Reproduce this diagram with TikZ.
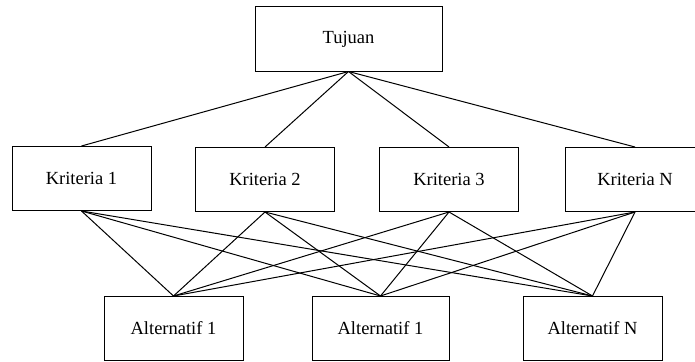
\documentclass[tikz,border=0pt]{standalone}
\usepackage{fontspec}
\setmainfont{Liberation Serif}
\begin{document}
\begin{tikzpicture}[x=1pt,y=-1pt,
  box/.style={draw, line width=1pt, minimum width=139pt, minimum height=64pt, inner sep=0pt,
    font=\fontsize{18.5}{22}\selectfont},
  link/.style={line width=1pt}]
\useasboundingbox (0,0) rectangle (695,361);
\node[box, minimum width=187pt] (goal) at (348.5,39) {Tujuan};
\node[box] (k1) at (81.5,178.5) {Kriteria 1};
\node[box] (k2) at (265,179.5) {Kriteria 2};
\node[box] (k3) at (449,179.5) {Kriteria 3};
\node[box, minimum width=140pt] (kn) at (635,179.5) {Kriteria N};
\node[box] (a1) at (173.5,328.5) {Alternatif 1};
\node[box, minimum width=137pt] (a2) at (380.5,328.5) {Alternatif 1};
\node[box] (an) at (592.5,328.5) {Alternatif N};
\foreach \k in {k1,k2,k3,kn}{
  \draw[link] (goal.south) -- (\k.north);
  \foreach \a in {a1,a2,an}{
    \draw[link] (\k.south) -- (\a.north);
  }
}
\end{tikzpicture}
\end{document}
